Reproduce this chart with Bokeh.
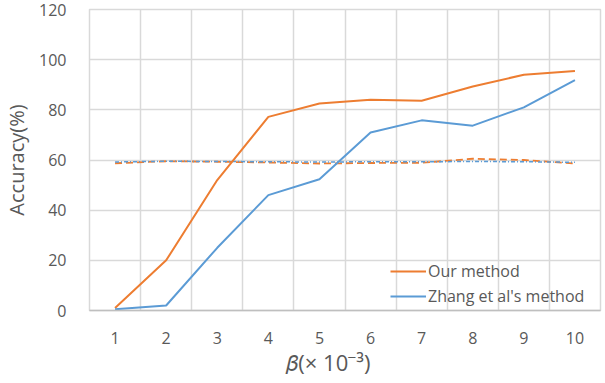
from bokeh.plotting import figure
from bokeh.models import FixedTicker, Legend, LegendItem, Range1d
from bokeh.embed import file_html
from bokeh.resources import INLINE

# beta values (x 10^-3) and accuracies (%)
beta = [1, 2, 3, 4, 5, 6, 7, 8, 9, 10]
ours = [1, 20, 52, 77.2, 82.5, 84, 83.6, 89.3, 94, 95.5]
zhang = [0.5, 2, 25, 46, 52.3, 71, 75.8, 73.7, 81, 91.8]
ours_ref = [58.7, 59.5, 59.3, 59.0, 58.6, 58.8, 58.9, 60.5, 60.0, 58.6]
zhang_ref = [59.2, 59.5, 59.4, 59.3, 59.2, 59.3, 59.3, 59.4, 59.3, 59.1]
y_ticks = [0, 20, 40, 60, 80, 100, 120]

ORANGE = "#ED7D31"
BLUE = "#5B9BD5"
GRID = "#d9d9d9"
TEXT = "#595959"
FONT = "Open Sans"

W, H = 605, 383

p = figure(width=W, height=H, output_backend="svg", toolbar_location=None,
           x_range=Range1d(0.5, 10.5), y_range=Range1d(0, 120))
p.min_border_left = 85
p.min_border_right = 5
p.min_border_top = 9
p.min_border_bottom = 73
p.outline_line_color = GRID
p.outline_line_width = 1.5
p.background_fill_color = "white"
p.border_fill_color = "white"

# grid lines sit between categories on x, on ticks on y
p.xgrid.ticker = FixedTicker(ticks=[b - 0.5 for b in beta] + [beta[-1] + 0.5])
p.ygrid.ticker = FixedTicker(ticks=y_ticks)
for g in (p.xgrid, p.ygrid):
    g.grid_line_color = GRID
    g.grid_line_width = 1.5

p.xaxis.ticker = FixedTicker(ticks=beta)
p.yaxis.ticker = FixedTicker(ticks=y_ticks)
for ax in (p.xaxis, p.yaxis):
    ax.major_tick_line_color = None
    ax.minor_tick_line_color = None
    ax.major_label_text_color = TEXT
    ax.major_label_text_font = FONT
    ax.major_label_text_font_size = "16px"
    ax.major_label_standoff = 17
    ax.axis_label_text_font = FONT
    ax.axis_label_text_font_style = "normal"
    ax.axis_label_text_color = TEXT
p.xaxis.major_label_standoff = 15
p.xaxis.axis_line_color = "#bfbfbf"
p.xaxis.axis_line_width = 1.5
p.yaxis.axis_line_color = None

p.yaxis.axis_label = "Accuracy(%)"
p.yaxis.axis_label_text_font_size = "20px"
p.yaxis.axis_label_standoff = 6

# non-breaking padding nudges the centred title a little to the left
p.xaxis.axis_label = "\U0001D6FD(\u00d7 10\u207b\u00b3)" + "\u00a0" * 6
p.xaxis.axis_label_text_font_size = "22px"
p.xaxis.axis_label_standoff = 0

# baseline levels
p.line(beta, ours_ref, line_color=ORANGE, line_width=1.8, line_dash="7 4")
p.line(beta, zhang_ref, line_color=BLUE, line_width=1.5, line_dash="4 2 1 2")

r_ours = p.line(beta, ours, line_color=ORANGE, line_width=2)
r_zhang = p.line(beta, zhang, line_color=BLUE, line_width=2)

legend = Legend(items=[LegendItem(label="Our method", renderers=[r_ours]),
                       LegendItem(label="Zhang et al's method", renderers=[r_zhang])],
                location=(301, 3), orientation="vertical")
legend.background_fill_alpha = 0
legend.border_line_color = None
legend.padding = 0
legend.margin = 0
legend.spacing = 3
legend.glyph_width = 36
legend.glyph_height = 20
legend.label_height = 20
legend.label_standoff = 2
legend.label_text_font = FONT
legend.label_text_font_size = "16px"
legend.label_text_color = TEXT
p.add_layout(legend)

open("out.html", "w").write(file_html(p, INLINE))
